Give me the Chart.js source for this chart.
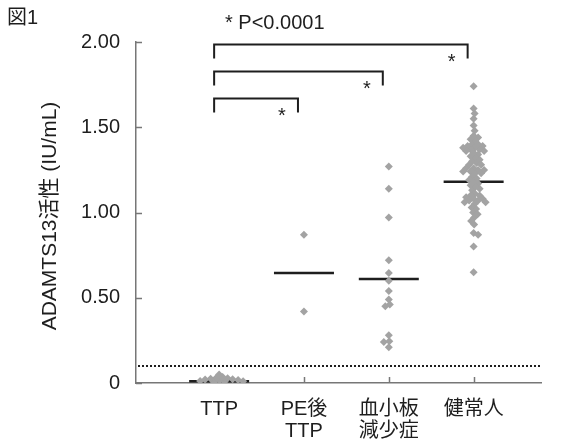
<!DOCTYPE html>
<html>
<head>
<meta charset="utf-8">
<script src="https://cdn.jsdelivr.net/npm/chart.js@4"></script>
<style>
  html, body { margin: 0; background: #fff; }
  #wrap { width: 574px; height: 441px; }
</style>
</head>
<body>
<div id="wrap"><canvas id="adamtsChart"></canvas></div>
<script>
// groups on the x axis (multi-line labels)
const groups = [["TTP"], ["PE後", "TTP"], ["血小板", "減少症"], ["健常人"]];

// ADAMTS13 activity (IU/mL)
const ttpValues = [0.005, 0.008, 0.01, 0.012, 0.015, 0.018, 0.02, 0.022, 0.025, 0.028, 0.03, 0.035, 0.05];
const postPeValues = [0.87, 0.42];
const thrombocytopeniaValues = [1.27, 1.14, 0.97, 0.72, 0.645, 0.60, 0.54, 0.49, 0.46, 0.45, 0.28, 0.245, 0.24, 0.21];
const healthyValues = [
  1.74, 1.61, 1.58, 1.55, 1.51, 1.48,
  1.45, 1.44, 1.43, 1.42,
  1.40, 1.40, 1.39, 1.39, 1.38, 1.38, 1.37, 1.37, 1.36, 1.36,
  1.35, 1.34, 1.33, 1.32, 1.31, 1.30, 1.29, 1.28, 1.28,
  1.26, 1.26, 1.25, 1.25, 1.24, 1.24, 1.23, 1.23,
  1.21, 1.20, 1.19, 1.18, 1.17, 1.16, 1.15, 1.14, 1.13,
  1.11, 1.10, 1.10, 1.09, 1.08, 1.08, 1.07, 1.07, 1.06, 1.06, 1.05,
  1.03, 1.02, 1.00, 0.99, 0.97, 0.95, 0.93,
  0.88, 0.87, 0.80, 0.65
];
// horizontal bars (group mean)
const groupMeans = [0.01, 0.645, 0.61, 1.18];

const yTicks = [0, 0.5, 1, 1.5, 2];
const cutoff = 0.1;                       // dotted line
const comparisons = [[0, 1], [0, 2], [0, 3]];
const pLabel = "* P<0.0001";
const figLabel = "図1";
const yTitle = "ADAMTS13活性 (IU/mL)";

const groupValues = [ttpValues, postPeValues, thrombocytopeniaValues, healthyValues];

const fontFamily = "'Liberation Sans', 'Noto Sans CJK JP', sans-serif";
const pointColor = "#a3a3a3";
const inkColor = "#1e1e1e";
const axisColor = "#777";

const decorations = {
  id: "decorations",
  beforeDatasetsDraw(chart) {
    const { ctx, chartArea, scales: { x, y } } = chart;
    ctx.save();
    // inward tick marks
    ctx.strokeStyle = axisColor;
    ctx.lineWidth = 1.5;
    ctx.beginPath();
    yTicks.forEach(v => {
      const py = Math.round(y.getPixelForValue(v)) + 0.5;
      ctx.moveTo(chartArea.left, py);
      ctx.lineTo(chartArea.left + 6, py);
    });
    groups.forEach((g, i) => {
      const px = Math.round(x.getPixelForValue(i)) + 0.5;
      ctx.moveTo(px, chartArea.bottom);
      ctx.lineTo(px, chartArea.bottom - 6);
    });
    ctx.stroke();

    // cut-off line
    const cy = y.getPixelForValue(cutoff);
    ctx.strokeStyle = inkColor;
    ctx.lineWidth = 2;
    ctx.setLineDash([2, 2]);
    ctx.beginPath();
    ctx.moveTo(chartArea.left + 2, cy);
    ctx.lineTo(chartArea.right, cy);
    ctx.stroke();
    ctx.restore();
  },
  afterDraw(chart, args, opts) {
    const { ctx, scales: { x, y } } = chart;
    ctx.save();
    ctx.strokeStyle = inkColor;
    ctx.fillStyle = inkColor;
    ctx.lineWidth = 2;
    ctx.font = "20px " + fontFamily;
    ctx.textBaseline = "middle";

    // significance brackets
    comparisons.forEach(([a, b], k) => {
      const by = Math.round(y.getPixelForValue(opts.levels[k])) + 0.5;
      const x1 = x.getPixelForValue(a) - 5;
      const x2 = x.getPixelForValue(b) - 6;
      ctx.beginPath();
      ctx.moveTo(x1, by + 14);
      ctx.lineTo(x1, by);
      ctx.lineTo(x2, by);
      ctx.lineTo(x2, by + 14);
      ctx.stroke();
      ctx.textAlign = "center";
      ctx.fillText("*", x2 - 16, by + 18);
    });

    ctx.textAlign = "left";
    ctx.fillText(pLabel, 225, 23);
    ctx.fillText(figLabel, 7, 18);

    ctx.translate(50, 216);
    ctx.rotate(-Math.PI / 2);
    ctx.textAlign = "center";
    ctx.font = "21px " + fontFamily;
    ctx.fillText(yTitle, 0, 0);
    ctx.restore();
  }
};

const chart = new Chart(document.getElementById("adamtsChart").getContext("2d"), {
  type: "scatter",
  data: {
    datasets: [
      ...groupValues.map((values, g) => ({
        data: values.map(v => ({ x: g, y: v })),
        pointStyle: "rectRot",
        pointRadius: 4,
        backgroundColor: pointColor,
        borderWidth: 0
      })),
      {
        data: groupMeans.map((m, g) => ({ x: g, y: m })),
        pointStyle: "line",
        pointRadius: 30,
        borderColor: inkColor,
        borderWidth: 2.5
      }
    ]
  },
  options: {
    responsive: true,
    maintainAspectRatio: false,
    animation: false,
    events: [],
    layout: { padding: { top: 42, right: 16, bottom: 0, left: 0 } },
    plugins: {
      legend: { display: false },
      tooltip: { enabled: false },
      decorations: { levels: [1.67, 1.83, 1.99] }
    },
    scales: {
      x: {
        type: "linear",
        min: -0.98,
        max: 3.8,
        afterBuildTicks: axis => { axis.ticks = groups.map((g, i) => ({ value: i })); },
        afterFit: axis => {
          axis.height = 58;
          axis.paddingLeft = 0;
          axis.paddingRight = 0;
        },
        grid: { display: true, drawOnChartArea: false, drawTicks: false },
        border: { color: axisColor, width: 1.5 },
        ticks: {
          padding: 15,
          color: inkColor,
          font: { family: fontFamily, size: 20, lineHeight: 1.1 },
          maxRotation: 0,
          autoSkip: false,
          callback: v => groups[v]
        }
      },
      y: {
        min: 0,
        max: 2,
        afterBuildTicks: axis => { axis.ticks = yTicks.map(v => ({ value: v })); },
        afterFit: axis => { axis.width = 136; },
        grid: { display: true, drawOnChartArea: false, drawTicks: false },
        border: { color: axisColor, width: 1.5 },
        ticks: {
          padding: 16,
          color: inkColor,
          font: { family: fontFamily, size: 20 },
          callback: v => (v === 0 ? "0" : v.toFixed(2))
        }
      }
    }
  },
  plugins: [decorations]
});

// spread overlapping points sideways (beeswarm), using the chart's own scales
function layoutSwarm(chart, gap) {
  const { x, y } = chart.scales;
  const unit = x.getPixelForValue(1) - x.getPixelForValue(0);
  groupValues.forEach((values, g) => {
    const placed = [];
    const points = chart.data.datasets[g].data;
    const order = values.map((v, i) => i).sort((a, b) => values[b] - values[a]);
    order.forEach(i => {
      const py = y.getPixelForValue(values[i]);
      let dx = 0;
      for (let step = 0; step < 400; step++) {
        const cand = (step % 2 ? 1 : -1) * Math.ceil(step / 2) * 0.5;
        if (placed.every(p => Math.abs(p.x - cand) + Math.abs(p.y - py) >= gap)) { dx = cand; break; }
      }
      placed.push({ x: dx, y: py });
      points[i].x = g + dx / unit;
    });
  });
  chart.update("none");
}
layoutSwarm(chart, 6);
</script>
</body>
</html>
